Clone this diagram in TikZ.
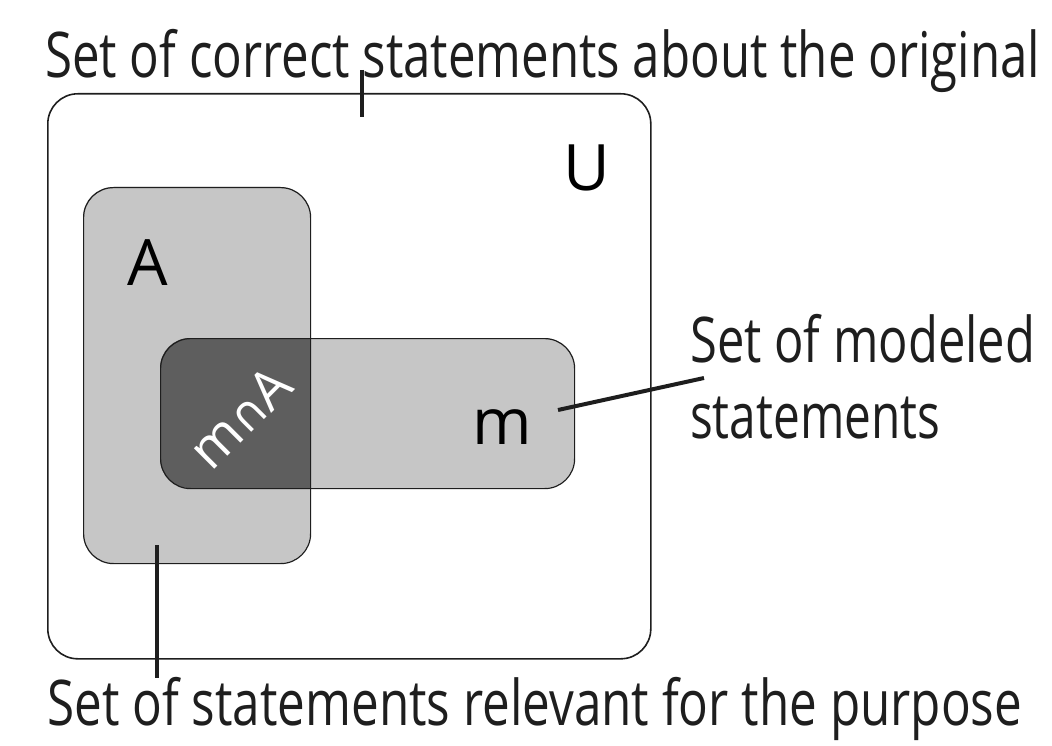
\documentclass[tikz,border=0pt]{standalone}
\usepackage{fontspec}
\setmainfont{Open Sans}
\newfontfamily\symfont{DejaVu Sans}
\usepackage{graphicx}
\definecolor{lightg}{HTML}{C6C6C6}
\definecolor{darkg}{HTML}{5E5E5E}
\definecolor{edge}{HTML}{1E1E1E}
\begin{document}
\begin{tikzpicture}[x=1pt,y=-1pt,
  border/.style={draw=edge,line width=1.6pt,rounded corners=30pt},
  tick/.style={draw=edge,line width=4pt},
  lbl/.style={anchor=base west,inner sep=0pt,font=\fontsize{63}{70}\selectfont,text=edge},
  big/.style={inner sep=0pt,font=\fontsize{64}{70}\selectfont,text=black}]
\useasboundingbox (0,0) rectangle (1052,746);
% fills
\fill[lightg,rounded corners=30pt] (83,187) rectangle (310,563);
\fill[lightg,rounded corners=30pt] (160,338) rectangle (574,488);
\begin{scope}
  \clip[rounded corners=30pt] (83,187) rectangle (310,563);
  \fill[darkg,rounded corners=30pt] (160,338) rectangle (574,488);
\end{scope}
% boxes
\node[border,minimum width=603pt,minimum height=565pt,anchor=north west,inner sep=0pt] (U) at (47,93) {};
\node[border,line width=1.2pt,minimum width=227pt,minimum height=376pt,anchor=north west,inner sep=0pt] (A) at (83,187) {};
\node[border,line width=1.2pt,minimum width=414pt,minimum height=150pt,anchor=north west,inner sep=0pt] (m) at (160,338) {};
% labels in sets
\node[big] (Ul) at (587,168) {U};
\node[big] (Al) at (148,263) {A};
\node[big] (ml) at (502,427) {m};
\node[inner sep=0pt,font=\fontsize{54}{60}\selectfont,text=white,rotate=45] (mA) at (240,417) {m{\symfont\fontsize{46}{50}\selectfont ∩}A};
% texts
\node[lbl] (top) at (45,78) {\resizebox{995pt}{\height}{Set of correct statements about the original}};
\node[lbl] (bot) at (47,725) {\resizebox{975pt}{\height}{Set of statements relevant for the purpose}};
\node[lbl] (mod1) at (690,362) {\resizebox{345pt}{\height}{Set of modeled}};
\node[lbl] (mod2) at (690,438) {\resizebox{250pt}{\height}{statements}};
% connectors
\coordinate (t1) at (362,70);
\coordinate (t2) at (362,117);
\draw[tick] (t1) -- (t2);
\coordinate (b1) at (157,545);
\coordinate (b2) at (157,678);
\draw[tick] (b1) -- (b2);
\coordinate (c1) at (558,410);
\coordinate (c2) at (704,378);
\draw[tick] (c1) -- (c2);
\end{tikzpicture}
\end{document}
